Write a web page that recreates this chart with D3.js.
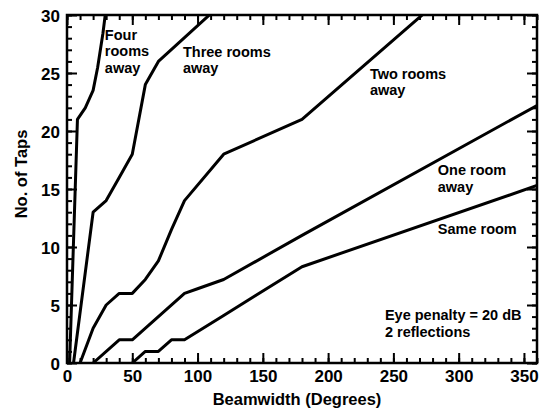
<!DOCTYPE html>
<html>
<head>
<meta charset="utf-8">
<script src="https://cdn.jsdelivr.net/npm/d3@7/dist/d3.min.js"></script>
<style>
body { margin: 0; background: #fff; }
text { font-family: "Liberation Sans", Arial, sans-serif; font-weight: bold; fill: #000; }
</style>
</head>
<body>
<div id="chart"></div>
<script>
// tick labels
var xTicks = [0, 50, 100, 150, 200, 250, 300, 350];
var yTicks = [0, 5, 10, 15, 20, 25, 30];

// beamwidth (degrees) vs number of taps
var sameRoomX = [50, 60, 70, 80, 90, 120, 180, 360];
var sameRoomY = [0, 1, 1, 2, 2, 4.1, 8.3, 15.3];

var oneRoomX = [20, 40, 50, 90, 100, 120, 180, 360];
var oneRoomY = [0, 2, 2, 6, 6.4, 7.2, 11, 22.2];

var twoRoomsX = [10, 20, 30, 40, 50, 60, 70, 80, 90, 120, 180, 360];
var twoRoomsY = [0, 3, 5, 6, 6, 7.2, 8.8, 11.5, 14, 18, 21, 38.6];

var threeRoomsX = [5, 20, 30, 40, 50, 60, 70, 110];
var threeRoomsY = [0, 13, 14, 16, 18, 24, 26, 30.1];

var fourRoomsX = [2, 8, 14, 20, 23.5, 27.5, 29.5];
var fourRoomsY = [0, 21, 22, 23.5, 25.5, 28.4, 30.2];

var seriesNames = ["Same room", "One room away", "Two rooms away", "Three rooms away", "Four rooms away"];

var svgWidth = 539;
var svgHeight = 411;

var margin = { top: 15, right: 2, bottom: 48, left: 67 };
var width = svgWidth - margin.left - margin.right;
var height = svgHeight - margin.top - margin.bottom;

var svg = d3.select("#chart")
  .append("svg")
  .attr("width", svgWidth)
  .attr("height", svgHeight);

var chartGroup = svg.append("g")
  .attr("transform", `translate(${margin.left}, ${margin.top})`);

var xScale = d3.scaleLinear().domain([0, 360]).range([0, width]);
var yScale = d3.scaleLinear().domain([0, 30]).range([height, 0]);

// inward ticks on all four sides: minor first, then major
function styleAxis(g) {
  g.select(".domain").remove();
  g.selectAll(".tick line").attr("stroke", "#000").attr("stroke-width", 2);
}

chartGroup.append("g")
  .attr("transform", `translate(0, ${height})`)
  .call(d3.axisBottom(xScale).tickValues(d3.range(0, 361, 10)).tickSize(-5).tickFormat(""))
  .call(styleAxis);
chartGroup.append("g")
  .call(d3.axisTop(xScale).tickValues(d3.range(0, 361, 10)).tickSize(-5).tickFormat(""))
  .call(styleAxis);
chartGroup.append("g")
  .call(d3.axisLeft(yScale).tickValues(d3.range(0, 31, 1)).tickSize(-5).tickFormat(""))
  .call(styleAxis);
chartGroup.append("g")
  .attr("transform", `translate(${width}, 0)`)
  .call(d3.axisRight(yScale).tickValues(d3.range(0, 31, 1)).tickSize(-5).tickFormat(""))
  .call(styleAxis);

var bottomAxis = chartGroup.append("g")
  .attr("transform", `translate(0, ${height})`)
  .call(d3.axisBottom(xScale).tickValues(xTicks).tickSize(-10).tickPadding(6))
  .call(styleAxis);
bottomAxis.selectAll(".tick text")
  .attr("y", 19).attr("dy", null)
  .style("font-size", "17px");

chartGroup.append("g")
  .call(d3.axisTop(xScale).tickValues(xTicks).tickSize(-10).tickFormat(""))
  .call(styleAxis);

var leftAxis = chartGroup.append("g")
  .call(d3.axisLeft(yScale).tickValues(yTicks).tickSize(-10).tickPadding(7))
  .call(styleAxis);
leftAxis.selectAll(".tick text")
  .attr("dy", "0.36em")
  .style("font-size", "17px");

chartGroup.append("g")
  .attr("transform", `translate(${width}, 0)`)
  .call(d3.axisRight(yScale).tickValues(yTicks).tickSize(-10).tickFormat(""))
  .call(styleAxis);

// frame
chartGroup.append("rect")
  .attr("width", width)
  .attr("height", height)
  .attr("fill", "none")
  .attr("stroke", "#000")
  .attr("stroke-width", 2.5);

// curves
chartGroup.append("clipPath")
  .attr("id", "plotClip")
  .append("rect")
  .attr("width", width)
  .attr("height", height);

var series = [
  { name: seriesNames[0], xs: sameRoomX, ys: sameRoomY },
  { name: seriesNames[1], xs: oneRoomX, ys: oneRoomY },
  { name: seriesNames[2], xs: twoRoomsX, ys: twoRoomsY },
  { name: seriesNames[3], xs: threeRoomsX, ys: threeRoomsY },
  { name: seriesNames[4], xs: fourRoomsX, ys: fourRoomsY }
];

var line = d3.line()
  .x(d => xScale(d[0]))
  .y(d => yScale(d[1]));

chartGroup.append("g")
  .attr("clip-path", "url(#plotClip)")
  .selectAll("path")
  .data(series)
  .enter()
  .append("path")
  .attr("d", d => line(d3.zip(d.xs, d.ys)))
  .attr("fill", "none")
  .attr("stroke", "#000")
  .attr("stroke-width", 3)
  .attr("stroke-linejoin", "round");

// curve labels, anchored in data units
var notes = [
  { lines: ["Four", "rooms", "away"], x: 29, y: 27.85 },
  { lines: ["Three rooms", "away"], x: 88.8, y: 26.4 },
  { lines: ["Two rooms", "away"], x: 232, y: 24.5 },
  { lines: ["One room", "away"], x: 284, y: 16.2 },
  { lines: ["Same room"], x: 284, y: 11.1 },
  { lines: ["Eye penalty = 20 dB", "2 reflections"], x: 243.5, y: 3.7 }
];

notes.forEach(function(n) {
  var t = chartGroup.append("text")
    .attr("x", xScale(n.x))
    .attr("y", yScale(n.y))
    .style("font-size", "14.5px");
  n.lines.forEach(function(s, i) {
    t.append("tspan")
      .attr("x", xScale(n.x))
      .attr("dy", i === 0 ? 0 : 16.5)
      .text(s);
  });
});

// axis titles
chartGroup.append("text")
  .attr("x", width / 2 - 5)
  .attr("y", height + 42)
  .attr("text-anchor", "middle")
  .style("font-size", "16.5px")
  .text("Beamwidth (Degrees)");

chartGroup.append("text")
  .attr("transform", "rotate(-90)")
  .attr("x", -(174 - margin.top))
  .attr("y", 27 - margin.left)
  .attr("text-anchor", "middle")
  .style("font-size", "16.5px")
  .text("No. of Taps");
</script>
</body>
</html>
